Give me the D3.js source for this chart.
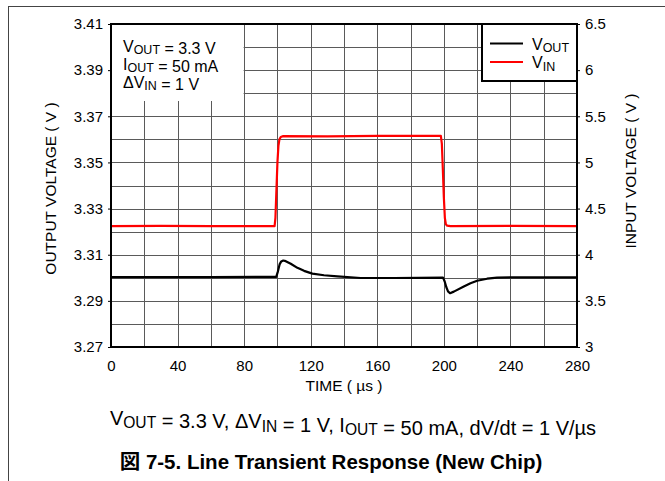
<!DOCTYPE html>
<html><head><meta charset="utf-8">
<script src="https://cdn.jsdelivr.net/npm/d3@7"></script>
<style>
html,body{margin:0;padding:0;background:#fff;}
svg{display:block;font-family:"Liberation Sans",Arial,sans-serif;}
</style></head>
<body>
<svg id="c" width="665" height="481"></svg>
<script>
// ---- data ----
const timeTicks = [0, 40, 80, 120, 160, 200, 240, 280];
const voutTicks = [3.27, 3.29, 3.31, 3.33, 3.35, 3.37, 3.39, 3.41];
const vinTicks = [3, 3.5, 4, 4.5, 5, 5.5, 6, 6.5];

const vinTime = [0, 30, 60, 98.3, 98.8, 99.4, 100.0, 100.6, 101.2, 102, 103.5, 130, 160, 198.2, 198.8, 199.4, 200.0, 200.6, 201.2, 202, 204, 240, 280];
const vinVolt = [4.31, 4.312, 4.31, 4.31, 4.40, 4.70, 5.00, 5.18, 5.25, 5.275, 5.285, 5.283, 5.287, 5.288, 5.20, 4.92, 4.62, 4.40, 4.33, 4.315, 4.31, 4.312, 4.31];

const voutTime = [0, 60, 99.3, 100.3, 101.3, 102.3, 103.5, 105, 108, 112, 116, 121, 128, 136, 150, 170, 199.5, 200.5, 201.5, 202.5, 203.7, 206, 211.7, 216, 220, 226, 232, 250, 280];
const voutVolt = [3.3003, 3.3003, 3.3004, 3.3028, 3.3058, 3.3071, 3.3075, 3.3072, 3.3061, 3.3043, 3.3030, 3.3018, 3.3011, 3.3006, 3.2999, 3.2999, 3.3001, 3.2984, 3.2959, 3.2941, 3.2933, 3.2940, 3.2961, 3.2976, 3.2987, 3.2996, 3.3001, 3.3002, 3.3002];

// ---- layout ----
const svg = d3.select("#c");
const L = 111, R = 577, T = 24, B = 347;
const x = d3.scaleLinear().domain([0, 280]).range([L, R]);
const yL = d3.scaleLinear().domain([3.27, 3.41]).range([B, T]);
const yR = d3.scaleLinear().domain([3, 6.5]).range([B, T]);

// page frame
svg.append("line").attr("x1", 8).attr("x2", 665).attr("y1", 6.5).attr("y2", 6.5).attr("stroke", "#444").attr("stroke-width", 1);
svg.append("line").attr("x1", 8.5).attr("x2", 8.5).attr("y1", 6).attr("y2", 481).attr("stroke", "#444").attr("stroke-width", 1);

// grid
const g = svg.append("g");
g.selectAll("line.v").data(d3.range(20, 280, 20)).join("line")
  .attr("x1", d => Math.round(x(d)) + 0.5).attr("x2", d => Math.round(x(d)) + 0.5)
  .attr("y1", T).attr("y2", B).attr("stroke", "#5a5a5a").attr("stroke-width", 1);
g.selectAll("line.h").data(d3.range(1, 14)).join("line")
  .attr("y1", d => Math.round(yL(3.27 + d * 0.01)) + 0.5).attr("y2", d => Math.round(yL(3.27 + d * 0.01)) + 0.5)
  .attr("x1", L).attr("x2", R).attr("stroke", "#5a5a5a").attr("stroke-width", 1);

// annotation box (white)
svg.append("rect").attr("x", L).attr("y", T).attr("width", x(80) - L - 0.5).attr("height", 77).attr("fill", "#fff");

// axes (labels only)
const fs = 15;
const axB = svg.append("g").attr("transform", `translate(0,${B})`)
  .call(d3.axisBottom(x).tickValues(timeTicks).tickSize(0).tickPadding(13).tickFormat(d3.format("d")));
const axL = svg.append("g").attr("transform", `translate(${L},0)`)
  .call(d3.axisLeft(yL).tickValues(voutTicks).tickSize(3).tickPadding(5).tickFormat(d3.format(".2f")));
const axR = svg.append("g").attr("transform", `translate(${R},0)`)
  .call(d3.axisRight(yR).tickValues(vinTicks).tickSize(3).tickPadding(5).tickFormat(d => String(d)));
[axB, axL, axR].forEach(a => {
  a.select(".domain").remove();
  a.selectAll("text").attr("font-size", fs).attr("fill", "#000").attr("font-family", "Liberation Sans, Arial, sans-serif");
  a.selectAll("line").attr("stroke", "#000");
});

// lines
const lineOut = d3.line().x((d, i) => x(voutTime[i])).y(d => yL(d));
const lineIn = d3.line().x((d, i) => x(vinTime[i])).y(d => yR(d));
svg.append("path").attr("d", lineIn(vinVolt)).attr("fill", "none").attr("stroke", "#ff0000").attr("stroke-width", 2.2).attr("stroke-linejoin", "round");
svg.append("path").attr("d", lineOut(voutVolt)).attr("fill", "none").attr("stroke", "#000").attr("stroke-width", 2.2).attr("stroke-linejoin", "round");

// plot border
svg.append("rect").attr("x", L).attr("y", T).attr("width", R - L).attr("height", B - T)
  .attr("fill", "none").attr("stroke", "#000").attr("stroke-width", 2);

// helper for subscripted text
function sub(sel, parts, size) {
  parts.forEach(p => {
    if (typeof p === "string") sel.append("tspan").text(p);
    else {
      sel.append("tspan").attr("font-size", size * 0.78).attr("dy", size * 0.17).text(p.s);
      sel.append("tspan").attr("dy", -size * 0.17).text("");
    }
  });
}

// annotation text
const fa = 16;
const ann = [
  ["V", {s: "OUT"}, " = 3.3 V"],
  ["I", {s: "OUT"}, " = 50 mA"],
  ["\u0394V", {s: "IN"}, " = 1 V"]
];
ann.forEach((a, i) => {
  const t = svg.append("text").attr("x", 123).attr("y", 51.5 + i * 18).attr("font-size", fa).attr("fill", "#000");
  sub(t, a, fa);
});

// legend
svg.append("rect").attr("x", 482).attr("y", T).attr("width", R - 482).attr("height", 57)
  .attr("fill", "#fff").attr("stroke", "#000").attr("stroke-width", 2);
const leg = [{c: "#000", parts: ["V", {s: "OUT"}]}, {c: "#ff0000", parts: ["V", {s: "IN"}]}];
leg.forEach((l, i) => {
  const yy = 43.5 + i * 18.5;
  svg.append("line").attr("x1", 490).attr("x2", 523).attr("y1", yy).attr("y2", yy).attr("stroke", l.c).attr("stroke-width", 2);
  const t = svg.append("text").attr("x", 532).attr("y", yy + 6).attr("font-size", fa).attr("fill", "#000");
  sub(t, l.parts, fa);
});

// axis titles
svg.append("text").attr("x", x(140)).attr("y", 391).attr("text-anchor", "middle").attr("font-size", 15.5).text("TIME ( \u00b5s )");
svg.append("text").attr("transform", `translate(56,${(T + B) / 2 + 3}) rotate(-90)`).attr("text-anchor", "middle").attr("font-size", 15.5).text("OUTPUT VOLTAGE ( V )");
svg.append("text").attr("transform", `translate(636,171) rotate(-90)`).attr("text-anchor", "middle").attr("font-size", 15.5).text("INPUT VOLTAGE ( V )");

// caption
const fc = 20;
const cap = svg.append("text").attr("x", 353).attr("y", 425).attr("text-anchor", "middle").attr("font-size", fc).attr("fill", "#000");
sub(cap, ["V", {s: "OUT"}, " = 3.3 V, \u0394V", {s: "IN"}, " = 1 V, I", {s: "OUT"}, " = 50 mA, dV/dt = 1 V/\u00b5s"], fc);

svg.append("text").attr("x", 331).attr("y", 469).attr("text-anchor", "middle").attr("font-size", 20.5).attr("font-weight", "bold")
  .attr("font-family", "'Liberation Sans', 'Noto Sans CJK JP', sans-serif").text("\u56f3 7-5. Line Transient Response (New Chip)");
</script>
</body></html>
